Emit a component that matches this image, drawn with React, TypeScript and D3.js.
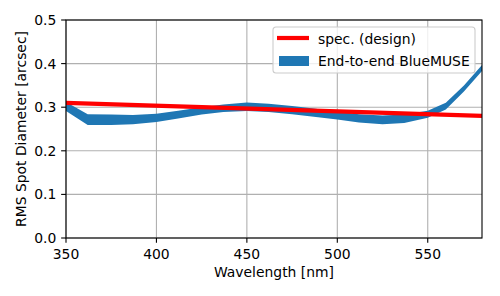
import React from 'react';
import * as d3 from 'd3';

// wavelength samples [nm] and the band edges of the end-to-end spot diameter [arcsec]
const wavelengths = [350, 362, 375, 387, 400, 412, 425, 437, 450, 462, 475, 487, 500, 512, 525, 537, 550, 560, 570, 580];
const upper = [0.312, 0.284, 0.283, 0.282, 0.285, 0.292, 0.300, 0.306, 0.311, 0.308, 0.303, 0.297, 0.290, 0.284, 0.281, 0.283, 0.292, 0.310, 0.350, 0.397];
const lower = [0.291, 0.259, 0.259, 0.261, 0.266, 0.274, 0.283, 0.289, 0.291, 0.289, 0.284, 0.278, 0.272, 0.265, 0.261, 0.264, 0.276, 0.295, 0.336, 0.383];

// design spec line
const specWavelengths = [350, 580];
const specValues = [0.31, 0.28];

const xTicks = [350, 400, 450, 500, 550];
const yTicks = [0, 0.1, 0.2, 0.3, 0.4, 0.5];
const legendLabels = ['spec. (design)', 'End-to-end BlueMUSE'];

const font = 'DejaVu Sans, sans-serif';
const fs = 13.9;

const App = () => {
  const width = 500;
  const height = 296;
  const margin = { top: 20, right: 18, bottom: 58, left: 66 };
  const iw = width - margin.left - margin.right;
  const ih = height - margin.top - margin.bottom;

  const x = d3.scaleLinear().domain([350, 580]).range([0, iw]);
  const y = d3.scaleLinear().domain([0, 0.5]).range([ih, 0]);

  const band = d3.area<number>()
    .x((d, i) => x(wavelengths[i]))
    .y0((d, i) => y(lower[i]))
    .y1((d, i) => y(upper[i]));

  const line = d3.line<number>()
    .x((d, i) => x(specWavelengths[i]))
    .y(d => y(d));

  const tickLen = 4.86;
  const pad = 4.86;

  // legend box
  const lx = 273 - margin.left;
  const ly = 27 - margin.top;

  return (
    <svg width={width} height={height} style={{ position: 'absolute', left: 0, top: 0 }} fontFamily={font}>
      <defs>
        <clipPath id="plot-clip">
          <rect x={0} y={0} width={iw} height={ih} />
        </clipPath>
      </defs>
      <rect width={width} height={height} fill="white" />
      <g transform={`translate(${margin.left},${margin.top})`}>
        {/* grid */}
        {xTicks.map(t => (
          <line key={'gx' + t} x1={x(t)} x2={x(t)} y1={0} y2={ih} stroke="#b0b0b0" strokeWidth={1.1} />
        ))}
        {yTicks.map(t => (
          <line key={'gy' + t} x1={0} x2={iw} y1={y(t)} y2={y(t)} stroke="#b0b0b0" strokeWidth={1.1} />
        ))}

        <g clipPath="url(#plot-clip)">
          <path d={band(upper) || ''} fill="#1f77b4" />
          <path d={line(specValues) || ''} fill="none" stroke="red" strokeWidth={4.2} />
        </g>

        {/* spines */}
        <rect x={0} y={0} width={iw} height={ih} fill="none" stroke="black" strokeWidth={1.1} />

        {/* x axis */}
        {xTicks.map(t => (
          <g key={'tx' + t} transform={`translate(${x(t)},${ih})`}>
            <line y1={0} y2={tickLen} stroke="black" strokeWidth={1.1} />
            <text y={tickLen + pad + 11} textAnchor="middle" fontSize={fs} fill="black">{t}</text>
          </g>
        ))}
        <text x={iw / 2} y={ih + 39} textAnchor="middle" fontSize={fs} fill="black">Wavelength [nm]</text>

        {/* y axis */}
        {yTicks.map(t => (
          <g key={'ty' + t} transform={`translate(0,${y(t)})`}>
            <line x1={0} x2={-tickLen} stroke="black" strokeWidth={1.1} />
            <text x={-tickLen - pad} dy="0.36em" textAnchor="end" fontSize={fs} fill="black">{t.toFixed(1)}</text>
          </g>
        ))}
        <text transform={`translate(${-40},${ih / 2}) rotate(-90)`} textAnchor="middle" fontSize={fs} fill="black">RMS Spot Diameter [arcsec]</text>

        {/* legend */}
        <g transform={`translate(${lx},${ly})`}>
          <rect x={0} y={0} width={202} height={46} rx={3} fill="white" fillOpacity={0.8} stroke="#cccccc" strokeWidth={1.1} />
          <line x1={4} x2={36} y1={11} y2={11} stroke="red" strokeWidth={4.2} />
          <text x={45} y={17} fontSize={fs} fill="black">{legendLabels[0]}</text>
          <rect x={6} y={29} width={30} height={10} fill="#1f77b4" />
          <text x={45} y={38.5} fontSize={fs} fill="black">{legendLabels[1]}</text>
        </g>
      </g>
    </svg>
  );
};

export default App;
